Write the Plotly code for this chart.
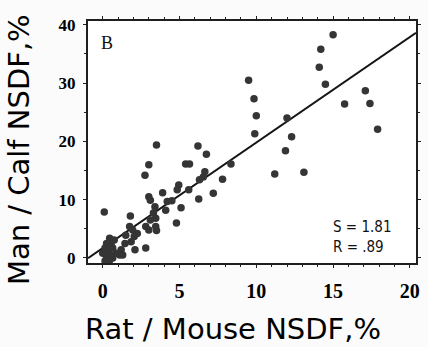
import plotly.graph_objects as go

# Rat/Mouse NSDF (%) vs Man/Calf NSDF (%) for each compound
rat_mouse = [
    9.5, 9.85, 10.0, 9.9, 15.0, 14.2, 14.1, 14.5, 12.0, 12.3, 15.75, 17.1, 17.4, 17.9,
    11.9, 11.2, 13.1,
    3.5, 6.2, 6.75, 3.0, 2.75, 5.4, 5.65, 8.35, 7.8, 6.65, 6.55, 6.3, 7.2, 6.25,
    4.95, 4.85, 5.6, 3.9, 3.0, 3.1, 4.2, 4.5, 4.1, 5.1, 3.4, 3.3, 3.45, 3.1, 2.8,
    3.45, 3.5, 3.0, 4.8, 0.1, 1.8, 1.75, 1.95, 2.25, 1.5, 2.05, 1.85, 1.45, 2.1,
    2.8, 1.2, 1.1,
    0.45, 0.75, 0.25, 0.55, 0.15, 0.65, 0.35, 0.0, 0.55, 0.25, 0.65, 0.15, 0.45,
    0.9, 1.3,
]
man_calf = [
    30.5, 27.3, 24.4, 21.3, 38.3, 35.8, 32.7, 29.8, 24.0, 20.8, 26.4, 28.7, 26.5, 22.1,
    18.4, 14.4, 14.7,
    19.4, 19.2, 17.8, 16.0, 14.2, 16.1, 16.1, 16.1, 13.5, 14.8, 13.9, 13.4, 11.1, 10.1,
    12.5, 11.7, 11.7, 11.2, 10.5, 9.9, 9.7, 9.8, 8.2, 8.6, 8.8, 7.7, 6.8, 6.5, 5.4,
    5.4, 4.7, 4.8, 6.0, 7.9, 7.2, 5.4, 4.8, 4.2, 3.9, 3.7, 2.8, 2.5, 1.4,
    1.7, 1.4, 0.5,
    3.4, 3.1, 2.5, 2.2, 1.7, 1.7, 1.1, 0.8, 0.5, 0.0, 0.0, -0.5, -0.4,
    0.8, 0.5,
]

# Regression fit
slope = 1.81
intercept = 1.7
r_value = ".89"
fit_x = [-0.96, 20.4]
fit_y = [slope * v + intercept for v in fit_x]

x_ticks = [0, 5, 10, 15, 20]
y_ticks = [0, 10, 20, 30, 40]

ink = "#1f1f1f"

fig = go.Figure()
fig.add_trace(go.Scatter(
    x=fit_x, y=fit_y, mode="lines",
    line=dict(color="#151515", width=2),
    hoverinfo="skip",
))
fig.add_trace(go.Scatter(
    x=rat_mouse, y=man_calf, mode="markers",
    marker=dict(size=7.5, color="#353535", line=dict(width=0)),
))

axis_common = dict(
    showline=True, linecolor=ink, linewidth=2, mirror="ticks",
    ticks="outside", ticklen=3, tickwidth=1.2, tickcolor=ink,
    showgrid=False, zeroline=False,
)

fig.update_xaxes(
    range=[-0.96, 20.4], tickvals=x_ticks, ticktext=[str(v) for v in x_ticks],
    tickfont=dict(family="Liberation Serif", size=20, color="#000", weight=700),
    ticklabelstandoff=6,
    minor=dict(dtick=1, ticks="outside", ticklen=2, tickcolor=ink),
    **axis_common,
)
fig.update_yaxes(
    range=[-0.86, 40.65], tickvals=y_ticks, ticktext=[str(v) for v in y_ticks],
    tickfont=dict(family="Liberation Serif", size=17, color="#000", weight=700),
    ticklabelstandoff=4,
    minor=dict(dtick=5, ticks="outside", ticklen=2, tickcolor=ink),
    **axis_common,
)

fig.add_annotation(
    text="Rat / Mouse NSDF,%", xref="paper", yref="paper",
    x=0.441, y=-0.273, xanchor="center", yanchor="middle", showarrow=False,
    font=dict(family="DejaVu Sans", size=29, color="#000"),
)
fig.add_annotation(
    text="Man / Calf NSDF,%", xref="paper", yref="paper",
    x=-0.21, y=0.467, xanchor="center", yanchor="middle", showarrow=False,
    textangle=-90,
    font=dict(family="DejaVu Sans", size=29, color="#000"),
)
fig.add_annotation(
    text="B", xref="paper", yref="paper",
    x=0.057, y=0.909, xanchor="center", yanchor="middle", showarrow=False,
    font=dict(family="Liberation Serif", size=18, color="#111"),
)
fig.add_annotation(
    text=f"S = {slope}", xref="paper", yref="paper",
    x=0.742, y=0.149, xanchor="left", yanchor="middle", showarrow=False,
    font=dict(family="DejaVu Sans Condensed", size=15, color="#111"),
)
fig.add_annotation(
    text=f"R = {r_value}", xref="paper", yref="paper",
    x=0.742, y=0.066, xanchor="left", yanchor="middle", showarrow=False,
    font=dict(family="DejaVu Sans Condensed", size=15, color="#111"),
)

fig.update_layout(
    width=428, height=347,
    margin=dict(l=88, r=7, t=21, b=84),
    paper_bgcolor="#fbfbfb", plot_bgcolor="white",
    showlegend=False,
)

fig.write_html("out.html")
